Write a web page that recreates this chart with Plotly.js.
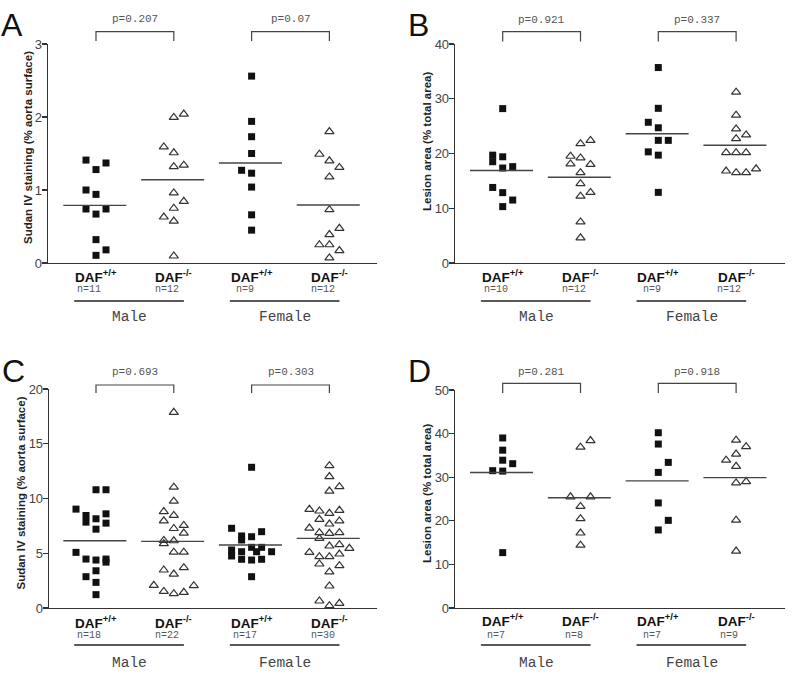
<!DOCTYPE html>
<html>
<head>
<meta charset="utf-8">
<script src="https://cdn.plot.ly/plotly-3.0.1.min.js"></script>
<style>
body { margin: 0; background: #fff; }
#fig { width: 800px; height: 683px; }
</style>
</head>
<body>
<div id="fig"></div>
<script>
// group labels, left to right in every panel
var genotypes = ['DAF<sup>+/+</sup>', 'DAF<sup>-/-</sup>', 'DAF<sup>+/+</sup>', 'DAF<sup>-/-</sup>'];
var sexes = ['Male', 'Female'];

// ---- A: Sudan IV staining
var aVals = [
    [1.41, 1.37, 1.28, 1.00, 0.94, 0.74, 0.74, 0.67, 0.32, 0.18, 0.105],
    [1.995, 2.04, 1.59, 1.51, 1.32, 1.34, 0.96, 0.845, 0.75, 0.63, 0.575, 0.096],
    [2.56, 1.94, 1.73, 1.50, 1.27, 1.23, 1.04, 0.66, 0.45],
    [1.80, 1.49, 1.40, 1.31, 1.18, 0.73, 0.475, 0.39, 0.25, 0.25, 0.17, 0.07]
];
// horizontal scatter column of each point (-2..2)
var aCols = [
    [-1, 1, 0, -1, 0, -1, 1, 0, 0, 1, 0],
    [0, 1, -1, 0, 0, 1, 0, 1, 0, -1, 0, 0],
    [0, 0, 0, 0, -1, 0, 0, 0, 0],
    [0, -1, 0, 1, 0, 0, 1, 0, -1, 0, 1, 0]
];
var aMeans = [0.79, 1.14, 1.37, 0.795];
var aN = [11, 12, 9, 12];
var aP = ['p=0.207', 'p=0.07'];

// ---- B: lesion area
var bVals = [
    [28.2, 19.7, 19.4, 18.5, 17.35, 17.6, 13.8, 12.85, 11.5, 10.3],
    [22.4, 21.8, 19.5, 19.2, 18.1, 18.0, 16.5, 14.5, 12.9, 12.2, 7.5, 4.6],
    [35.7, 28.25, 25.7, 24.7, 22.4, 22.4, 20.3, 19.7, 12.9],
    [31.2, 27.0, 24.5, 23.4, 22.7, 20.15, 20.15, 20.15, 16.8, 16.5, 16.5, 17.2]
];
var bCols = [
    [0, -1, 0, -1, 0, 1, -1, 0, 1, 0],
    [1, 0, -1, 0, -1, 1, 0, 0, 1, 0, 0, 0],
    [0, 0, -1, 0, 0, 1, -1, 0, 0],
    [0, 0, 0, 1, 0, -1, 0, 1, -1, 0, 1, 2]
];
var bMeans = [16.9, 15.65, 23.6, 21.5];
var bN = [10, 12, 9, 12];
var bP = ['p=0.921', 'p=0.337'];

// ---- C: Sudan IV staining
var cVals = [
    [10.8, 10.8, 9.03, 8.45, 7.84, 8.15, 8.6, 7.75, 7.2, 5.08, 4.47, 4.38, 4.47, 4.19, 3.4, 2.86, 2.34, 1.22],
    [17.87, 11.03, 9.76, 8.81, 8.45, 7.96, 7.54, 7.26, 6.84, 6.17, 6.14, 5.87, 5.1, 5.1, 3.47, 3.68, 3.1, 2.07, 2.04, 1.52, 1.31, 1.43],
    [12.85, 7.28, 6.58, 6.21, 6.51, 6.97, 5.3, 4.75, 5.14, 4.45, 5.54, 4.38, 5.14, 5.54, 4.45, 5.14, 2.86],
    [13.0, 12.0, 10.68, 11.08, 9.01, 8.86, 8.65, 8.92, 8.1, 7.67, 7.95, 7.3, 6.88, 6.82, 6.88,
     6.36, 5.66, 5.78, 5.45, 5.08, 4.69, 4.69, 4.93, 4.02, 3.87, 3.29, 2.01, 0.64, 0.43, 0.21]
];
var cCols = [
    [0, 1, -2, -1, -1, 0, 1, 1, 0, -2, -1, 0, 1, 1, 0, -1, 0, 0],
    [0, 0, 0, -1, 0, -1, 1, 0, 1, -1, 0, -1, 0, 1, -1, 1, 0, -2, 2, -1, 0, 1],
    [0, -2, -1, -1, 0, 1, -2, -2, -1, -1, 0, 0, 0.5, 1, 1, 2, 0],
    [0, 0, 0, 1, -2, -1, 0, 1, -1, 0, 1, -2, -1, 0, 1, -1, 0, 1, 2, -2, -1, 0, 1, -1, 1, 0, 0, -1, 1, 0]
];
var cMeans = [6.14, 6.08, 5.75, 6.36];
var cN = [18, 22, 17, 30];
var cP = ['p=0.693', 'p=0.303'];

// ---- D: lesion area
var dVals = [
    [39.0, 36.2, 33.9, 33.1, 31.5, 31.4, 12.7],
    [38.4, 36.9, 25.5, 25.5, 23.3, 20.5, 17.2, 14.4],
    [40.2, 37.6, 33.4, 31.1, 24.1, 20.1, 17.9],
    [38.5, 37.0, 33.9, 35.3, 32.5, 28.7, 29.0, 20.15, 13.05]
];
var dCols = [
    [0, 0, 0, 1, -1, 0, 0],
    [1, 0, -1, 1, 0, 0, 0, 0],
    [0, 0, 1, 0, 0, 1, 0],
    [0, 1, -1, 0, 0, 0, 1, 0, 0]
];
var dMeans = [31.07, 25.27, 29.16, 29.9];
var dN = [7, 8, 7, 9];
var dP = ['p=0.281', 'p=0.918'];


var W = 800, H = 683;
var UNIT = 77.8;          // px between groups
var STEP = 10 / UNIT;     // px between scatter columns, in group units

function fx(p) { return p / W; }
function fy(p) { return (H - p) / H; }

// panel frames in page pixels
var panels = [
    { letter: 'A', vals: aVals, cols: aCols, means: aMeans, n: aN, p: aP, ymax: 3, dtick: 1,
      title: 'Sudan IV staining (% aorta surface)',
      l: 48, r: 377, t: 44, b: 263, g1: 96, lx: 12, ly: 25, tx: 27.5, ty: 147.5,
      brTop: 31.7, brLeg: 41, pY: 19, dafY: 276, nY: 290, lineY: 301, sexY: 317 },
    { letter: 'B', vals: bVals, cols: bCols, means: bMeans, n: bN, p: bP, ymax: 40, dtick: 10,
      title: 'Lesion area (% total area)',
      l: 455, r: 785, t: 44, b: 263, g1: 502.7, lx: 418, ly: 25, tx: 427, ty: 141,
      brTop: 31.7, brLeg: 41.5, pY: 20, dafY: 276, nY: 290, lineY: 301, sexY: 317 },
    { letter: 'C', vals: cVals, cols: cCols, means: cMeans, n: cN, p: cP, ymax: 20, dtick: 5,
      title: 'Sudan IV staining (% aorta surface)',
      l: 49, r: 377, t: 389, b: 608, g1: 96, lx: 13, ly: 371, tx: 20.5, ty: 493,
      brTop: 385, brLeg: 393, pY: 372, dafY: 622, nY: 635, lineY: 645, sexY: 663 },
    { letter: 'D', vals: dVals, cols: dCols, means: dMeans, n: dN, p: dP, ymax: 50, dtick: 10,
      title: 'Lesion area (% total area)',
      l: 455, r: 785, t: 390, b: 608, g1: 502.7, lx: 419, ly: 371, tx: 427, ty: 493,
      brTop: 383.3, brLeg: 393, pY: 372, dafY: 620, nY: 635, lineY: 645, sexY: 663 }
];

var data = [];
var shapes = [];
var annotations = [];
var layout = {
    width: W,
    height: H,
    margin: { l: 0, r: 0, t: 0, b: 0 },
    paper_bgcolor: '#fff',
    plot_bgcolor: 'rgba(0,0,0,0)',
    showlegend: false
};

var sans = 'Liberation Sans, Arial, sans-serif';
var mono = 'Liberation Mono, Courier New, monospace';

panels.forEach(function (pn, i) {
    var xk = i === 0 ? 'x' : 'x' + (i + 1);
    var yk = i === 0 ? 'y' : 'y' + (i + 1);
    var x0 = pn.g1 - UNIT; // page px of group 0

    layout['xaxis' + (i === 0 ? '' : i + 1)] = {
        domain: [fx(pn.l), fx(pn.r)],
        range: [(pn.l - x0) / UNIT, (pn.r - x0) / UNIT],
        anchor: yk,
        showline: true, linecolor: '#333', linewidth: 1.3,
        showgrid: false, zeroline: false, showticklabels: false, ticks: '',
        fixedrange: true
    };
    var tv = [];
    for (var v = 0; v <= pn.ymax; v += pn.dtick) tv.push(v);
    layout['yaxis' + (i === 0 ? '' : i + 1)] = {
        domain: [fy(pn.b), fy(pn.t)],
        range: [0, pn.ymax],
        anchor: xk,
        tickvals: tv,
        showline: true, linecolor: '#333', linewidth: 1.3,
        ticks: 'outside', ticklen: 5, tickwidth: 1.2, tickcolor: '#333',
        ticklabelstandoff: -3,
        tickfont: { family: sans, size: 13, color: '#444' },
        showgrid: false, zeroline: false,
        fixedrange: true
    };

    // points
    pn.vals.forEach(function (vals, g) {
        var wt = g % 2 === 0;
        data.push({
            type: 'scatter', mode: 'markers', xaxis: xk, yaxis: yk,
            x: pn.cols[g].map(function (c) { return g + 1 + c * STEP; }),
            y: vals,
            cliponaxis: false,
            marker: wt
                ? { symbol: 'square', size: 7, color: '#111' }
                : { symbol: 'triangle-up-open', size: 8, color: '#333', line: { width: 1.2, color: '#333' } }
        });
    });

    // mean lines
    var mx = [], my = [];
    pn.means.forEach(function (m, g) {
        mx.push(g + 1 - 0.42, g + 1 + 0.39, null);
        my.push(m, m, null);
    });
    data.push({
        type: 'scatter', mode: 'lines', xaxis: xk, yaxis: yk,
        x: mx, y: my, line: { color: '#444', width: 1.4 }
    });

    // panel letter
    annotations.push({
        xref: 'paper', yref: 'paper', x: fx(pn.lx), y: fy(pn.ly),
        text: pn.letter, showarrow: false, xanchor: 'center', yanchor: 'middle',
        font: { family: sans, size: 32, color: '#111' }
    });
    // y title
    annotations.push({
        xref: 'paper', yref: 'paper', x: fx(pn.tx), y: fy(pn.ty),
        text: '<b>' + pn.title + '</b>', textangle: -90, showarrow: false,
        xanchor: 'center', yanchor: 'middle',
        font: { family: sans, size: 11.5, color: '#222' }
    });

    for (var s = 0; s < 2; s++) {
        var gA = 2 * s + 1, gB = 2 * s + 2;
        // bracket with p-value
        shapes.push({
            type: 'path', xref: xk, yref: 'paper',
            path: 'M' + gA + ',' + fy(pn.brLeg) + ' L' + gA + ',' + fy(pn.brTop) +
                  ' L' + gB + ',' + fy(pn.brTop) + ' L' + gB + ',' + fy(pn.brLeg),
            line: { color: '#444', width: 1.2 }
        });
        annotations.push({
            xref: xk, yref: 'paper', x: (gA + gB) / 2, y: fy(pn.pY),
            text: pn.p[s], showarrow: false, xanchor: 'center', yanchor: 'middle',
            font: { family: mono, size: 11, color: '#555' }
        });
        // sex underline + label
        shapes.push({
            type: 'line', xref: xk, yref: 'paper',
            x0: gA - 0.28, x1: gB + 0.13, y0: fy(pn.lineY), y1: fy(pn.lineY),
            line: { color: '#222', width: 1.3 }
        });
        annotations.push({
            xref: xk, yref: 'paper', x: (gA + gB) / 2 - 0.07, y: fy(pn.sexY),
            text: sexes[s], showarrow: false, xanchor: 'center', yanchor: 'middle',
            font: { family: mono, size: 14.5, color: '#444' }
        });
    }

    // genotype and n labels
    genotypes.forEach(function (lab, g) {
        annotations.push({
            xref: xk, yref: 'paper', x: g + 1, y: fy(pn.dafY),
            text: '<b>' + lab + '</b>', showarrow: false, xanchor: 'center', yanchor: 'middle',
            font: { family: sans, size: 13.5, color: '#111' }
        });
        annotations.push({
            xref: xk, yref: 'paper', x: g + 1 - 0.085, y: fy(pn.nY),
            text: 'n=' + pn.n[g], showarrow: false, xanchor: 'center', yanchor: 'middle',
            font: { family: mono, size: 10, color: '#555' }
        });
    });
});

layout.shapes = shapes;
layout.annotations = annotations;

Plotly.newPlot('fig', data, layout, { staticPlot: true });
</script>
</body>
</html>
